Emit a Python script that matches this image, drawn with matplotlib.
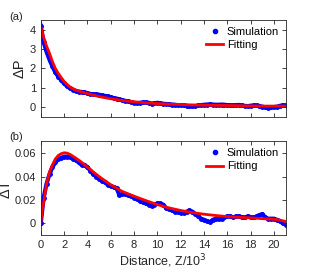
import numpy as np
import matplotlib.pyplot as plt

plt.rcParams['font.family'] = ['Liberation Sans', 'DejaVu Sans']

# simulation samples (step 0.25 in Z/10^3)
z_sim = np.arange(0, 21.01, 0.25)
dp_sim = [4.2, 3.35, 2.85, 2.45, 2.1, 1.8, 1.57, 1.4, 1.22, 1.08, 0.97, 0.9,
          0.84, 0.8, 0.78, 0.76, 0.72, 0.68, 0.66, 0.66, 0.64, 0.6, 0.58, 0.55,
          0.5, 0.46, 0.44, 0.4, 0.36, 0.32, 0.3, 0.26, 0.22, 0.2, 0.22, 0.24,
          0.24, 0.22, 0.18, 0.2, 0.22, 0.2, 0.17, 0.16, 0.14, 0.13, 0.12, 0.1,
          0.1, 0.08, 0.06, 0.04, 0.03, 0.05, 0.08, 0.1, 0.12, 0.13, 0.14, 0.13,
          0.12, 0.12, 0.13, 0.12, 0.1, 0.09, 0.08, 0.1, 0.11, 0.08, 0.06, 0.05,
          0.07, 0.09, 0.08, 0.05, 0.02, -0.02, -0.03, -0.02, 0.0, 0.02, 0.06,
          0.1, 0.08]
dt_sim = [0.0, 0.022, 0.034, 0.042, 0.048, 0.052, 0.055, 0.056, 0.057, 0.057,
          0.057, 0.055, 0.054, 0.052, 0.050, 0.050, 0.048, 0.045, 0.042, 0.040,
          0.038, 0.036, 0.035, 0.033, 0.032, 0.031, 0.030, 0.024, 0.025, 0.025,
          0.024, 0.023, 0.022, 0.021, 0.019, 0.018, 0.017, 0.016, 0.015, 0.016,
          0.017, 0.017, 0.016, 0.013, 0.012, 0.011, 0.010, 0.010, 0.009, 0.009,
          0.010, 0.011, 0.010, 0.008, 0.006, 0.004, 0.003, 0.002, 0.001, 0.003,
          0.004, 0.004, 0.004, 0.005, 0.006, 0.006, 0.005, 0.006, 0.006, 0.005,
          0.005, 0.006, 0.005, 0.005, 0.006, 0.007, 0.008, 0.005, 0.004, 0.004,
          0.004, 0.003, 0.002, 0.0, -0.001]

# fitted curves
z_fp = [0, 0.25, 0.5, 0.75, 1, 1.25, 1.5, 2, 2.5, 3, 3.5, 4, 5, 6, 7, 8, 9,
        10, 11, 12, 13, 14, 15, 16, 17, 18, 19, 20, 21]
dp_fit = [4.15, 3.6, 3.15, 2.78, 2.35, 2.0, 1.74, 1.32, 1.04, 0.88, 0.78,
          0.70, 0.54, 0.43, 0.34, 0.27, 0.22, 0.18, 0.15, 0.13, 0.11, 0.10,
          0.09, 0.08, 0.07, 0.06, 0.05, 0.05, 0.05]
z_ft = [0, 0.1, 0.25, 0.5, 0.75, 1.0, 1.25, 1.5, 1.75, 2.0, 2.25, 2.5, 3.0,
        3.5, 4, 4.5, 5, 5.5, 6, 6.5, 7, 8, 9, 10, 11, 12, 13, 14, 15, 16, 17,
        18, 19, 20, 20.5, 21]
dt_fit = [0, 0.009, 0.018, 0.034, 0.044, 0.050, 0.055, 0.058, 0.0595, 0.0603,
          0.0600, 0.0590, 0.0558, 0.0522, 0.0480, 0.0440, 0.0400, 0.0365,
          0.0330, 0.0300, 0.0272, 0.0232, 0.0195, 0.0160, 0.0132, 0.0110,
          0.0092, 0.0078, 0.0067, 0.0058, 0.0052, 0.0047, 0.0040, 0.0035,
          0.0028, 0.0015]

grey = (0.15, 0.15, 0.15)
fig = plt.figure(figsize=(3.16, 2.73), dpi=100)
ax1 = fig.add_axes([0.129, 0.5725, 0.775, 0.354])
ax2 = fig.add_axes([0.129, 0.139, 0.775, 0.343])

for ax, sim, zf, fit in [(ax1, dp_sim, z_fp, dp_fit), (ax2, dt_sim, z_ft, dt_fit)]:
    ax.plot(z_sim, sim, '-', color='blue', lw=3)
    ax.plot(z_sim, sim, '.', color='blue', ms=5, label='Simulation')
    ax.plot(zf, fit, '-', color='red', lw=2, label='Fitting')
    ax.set_xlim(0, 21)
    ax.set_xticks(np.arange(0, 21, 2))
    ax.tick_params(direction='in', top=True, right=True, length=3,
                   labelsize=8, colors=grey, width=0.6)
    for s in ax.spines.values():
        s.set_color(grey)
        s.set_linewidth(0.6)
    ax.legend(loc='upper right', frameon=False, fontsize=8, handlelength=1.6,
              handletextpad=0.3, borderaxespad=0.2, labelspacing=0.3,
              markerscale=1.2)

ax1.set_ylim(-0.5, 4.5)
ax1.set_yticks([0, 1, 2, 3, 4])
ax1.tick_params(labelbottom=False)
ax1.set_ylabel('ΔP', fontsize=10.5, color=grey, labelpad=2)

ax2.set_ylim(-0.01, 0.07)
ax2.set_yticks([0, 0.02, 0.04, 0.06])
ax2.set_yticklabels(['0', '0.02', '0.04', '0.06'])
ax2.set_ylabel('ΔT', fontsize=10.5, color=grey, labelpad=1)
ax2.set_xlabel('Distance, Z/10$^3$', fontsize=9, color=grey, labelpad=2)

fig.text(0.03, 0.925, '(a)', fontsize=8, color=grey)
fig.text(0.03, 0.487, '(b)', fontsize=8, color=grey)

fig.savefig('out.png', dpi=100)
